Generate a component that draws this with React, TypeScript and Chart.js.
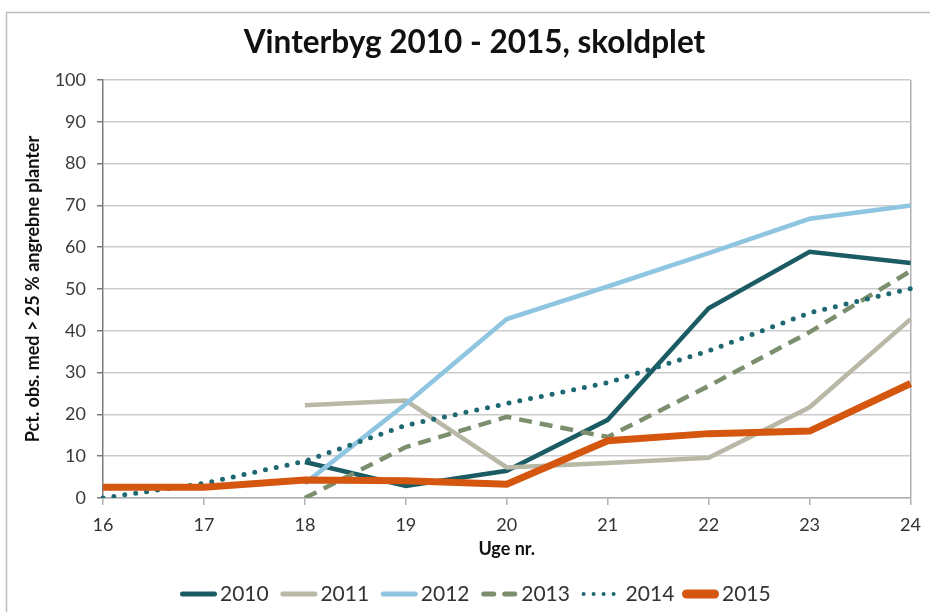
import React, { useEffect, useRef } from 'react';
import { Chart, registerables } from 'chart.js';

Chart.register(...registerables);

const weeks = ['16', '17', '18', '19', '20', '21', '22', '23', '24'];
const s2010 = [null, null, 8.6, 2.9, 6.5, 18.7, 45.4, 58.9, 56.2];
const s2011 = [null, null, 22.2, 23.3, 7.3, 8.4, 9.6, 21.7, 42.8];
const s2012 = [null, null, 3.5, 22.5, 42.8, 50.6, 58.6, 66.8, 70.0];
const s2013 = [null, null, 0, 12.2, 19.4, 14.6, 26.8, 39.7, 54.3];
const s2014 = [0, 3.5, 8.8, 17.4, 22.6, 27.6, 35.2, 44.3, 50.1];
const s2015 = [2.6, 2.6, 4.3, 4.1, 3.3, 13.7, 15.4, 16.0, 27.4];
const seriesNames = ['2010', '2011', '2012', '2013', '2014', '2015'];

const FONT = 'Lato, "Liberation Sans", sans-serif';

const framePlugin = {
  id: 'frame',
  beforeDraw(chart: any) {
    const ctx = chart.ctx;
    ctx.save();
    ctx.fillStyle = '#ffffff';
    ctx.fillRect(0, 0, chart.width, chart.height);
    ctx.strokeStyle = '#bdbdbd';
    ctx.lineWidth = 1.5;
    ctx.beginPath();
    ctx.moveTo(6.5, chart.height);
    ctx.lineTo(6.5, 12.5);
    ctx.lineTo(chart.width, 12.5);
    ctx.stroke();
    ctx.restore();
  },
};

// Legend drawn from the chart's own datasets (label, colour, width, dash)
const lineLegendPlugin = {
  id: 'lineLegend',
  afterDraw(chart: any) {
    const ctx = chart.ctx;
    const opts = chart.options.plugins.lineLegend;
    const dsList = chart.data.datasets;
    ctx.save();
    ctx.font = `${opts.fontSize}px ${FONT}`;
    ctx.textBaseline = 'middle';
    ctx.textAlign = 'left';
    dsList.forEach((ds: any, i: number) => {
      const x0 = opts.startX + i * opts.step;
      const y = opts.y;
      ctx.save();
      ctx.strokeStyle = ds.borderColor;
      ctx.lineCap = 'round';
      const w = ds.legendWidth ?? ds.borderWidth;
      ctx.lineWidth = w;
      ctx.setLineDash(ds.legendDash ?? []);
      ctx.beginPath();
      ctx.moveTo(x0 + w / 2, y);
      ctx.lineTo(x0 + opts.lineLen - w / 2, y);
      ctx.stroke();
      ctx.restore();
      ctx.fillStyle = opts.color;
      ctx.fillText(ds.label, x0 + opts.lineLen + opts.gap + (ds.legendTextShift ?? 0), y);
    });
    ctx.restore();
  },
};

export default function App() {
  const ref = useRef<HTMLCanvasElement | null>(null);

  useEffect(() => {
    if (!ref.current) return;
    const mk = (label: string, data: (number | null)[], color: string, width: number, order: number, extra: any = {}) => ({
      label,
      data,
      borderColor: color,
      backgroundColor: color,
      borderWidth: width,
      pointRadius: 0,
      pointHoverRadius: 0,
      tension: 0,
      fill: false,
      order,
      ...extra,
    });
    const chart = new Chart(ref.current, {
      type: 'line',
      data: {
        labels: weeks,
        datasets: [
          mk(seriesNames[0], s2010, '#1b5c64', 4.5, 5, { legendWidth: 5 }),
          mk(seriesNames[1], s2011, '#b9b7a6', 4.5, 4, { legendWidth: 5 }),
          mk(seriesNames[2], s2012, '#8ec5e0', 4.5, 3, { legendWidth: 5 }),
          mk(seriesNames[3], s2013, '#7b8f6e', 4.5, 2, { borderDash: [13, 8], legendWidth: 5, legendDash: [10, 11] }),
          mk(seriesNames[4], s2014, '#1e6871', 5, 1, { borderDash: [0, 11], borderCapStyle: 'round', legendWidth: 4, legendDash: [0, 10], legendTextShift: 4 }),
          mk(seriesNames[5], s2015, '#d4560f', 7, 0, { legendWidth: 9 }),
        ],
      },
      options: {
        responsive: false,
        animation: false,
        devicePixelRatio: 1,
        layout: { padding: { top: 0, left: 36, right: 17, bottom: 0 } },
        plugins: {
          title: {
            display: true,
            text: 'Vinterbyg 2010 - 2015, skoldplet',
            color: '#111111',
            font: { family: FONT, size: 31.5, weight: 'bold' },
            padding: { top: 24.2, bottom: 18 },
          },
          legend: { display: false },
          tooltip: { enabled: false },
          // @ts-ignore custom plugin options
          lineLegend: { startX: 180, step: 100.4, y: 594, lineLen: 37, gap: 3, fontSize: 21, color: '#333333' },
        },
        scales: {
          x: {
            type: 'category',
            offset: false,
            afterFit: (scale: any) => { scale.height = 114; },
            grid: {
              display: true,
              drawOnChartArea: true,
              color: (c: any) => (c.index === 8 ? '#b0b0b0' : 'rgba(0,0,0,0)'),
              tickColor: '#b0b0b0',
              lineWidth: 1.5,
              tickLength: 7,
            },
            border: { color: '#b0b0b0', width: 1.5 },
            ticks: {
              color: '#333333',
              font: { family: FONT, size: 18 },
              padding: 9,
              maxRotation: 0,
            },
            title: {
              display: true,
              text: 'Uge nr.',
              color: '#111111',
              font: { family: FONT, size: 18, weight: 'bold' },
              padding: { top: 0, bottom: 52 },
            },
          },
          y: {
            min: 0,
            max: 100,
            afterFit: (scale: any) => { scale.width = 67; },
            ticks: {
              stepSize: 10,
              color: '#3a3a3a',
              font: { family: FONT, size: 18 },
              padding: 11,
            },
            grid: {
              color: '#cbcbcb',
              lineWidth: 1.5,
              tickLength: 6,
              tickColor: '#7a7a7a',
            },
            border: { color: '#7a7a7a', width: 1.5 },
            title: {
              display: true,
              text: 'Pct. obs. med > 25 % angrebne planter',
              color: '#111111',
              font: { family: FONT, size: 18, weight: 'bold' },
              padding: { top: -14, bottom: 0 },
            },
          },
        },
      } as any,
      plugins: [framePlugin, lineLegendPlugin],
    });
    return () => chart.destroy();
  }, []);

  return (
    <div style={{ position: 'fixed', left: 0, top: 0, width: 930, height: 612, background: '#fff' }}>
      <canvas ref={ref} width={930} height={612} style={{ display: 'block' }} />
    </div>
  );
}
